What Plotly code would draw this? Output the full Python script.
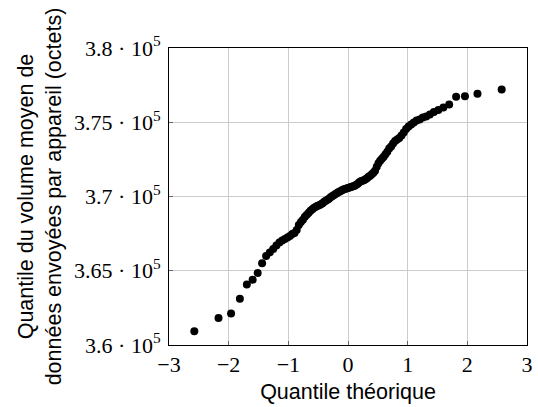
import plotly.graph_objects as go

# Theoretical normal quantiles (n = 100)
theoretical = [
    -2.5758, -2.1701, -1.9600, -1.8119, -1.6954, -1.5982, -1.5141, -1.4395, -1.3722, -1.3106,
    -1.2536, -1.2004, -1.1503, -1.1031, -1.0581, -1.0152, -0.9741, -0.9346, -0.8965, -0.8596,
    -0.8239, -0.7892, -0.7554, -0.7225, -0.6903, -0.6588, -0.6280, -0.5978, -0.5681, -0.5388,
    -0.5101, -0.4817, -0.4538, -0.4261, -0.3989, -0.3719, -0.3451, -0.3186, -0.2924, -0.2663,
    -0.2404, -0.2147, -0.1891, -0.1637, -0.1383, -0.1130, -0.0878, -0.0627, -0.0376, -0.0125,
    0.0125, 0.0376, 0.0627, 0.0878, 0.1130, 0.1383, 0.1637, 0.1891, 0.2147, 0.2404,
    0.2663, 0.2924, 0.3186, 0.3451, 0.3719, 0.3989, 0.4261, 0.4538, 0.4817, 0.5101,
    0.5388, 0.5681, 0.5978, 0.6280, 0.6588, 0.6903, 0.7225, 0.7554, 0.7892, 0.8239,
    0.8596, 0.8965, 0.9346, 0.9741, 1.0152, 1.0581, 1.1031, 1.1503, 1.2004, 1.2536,
    1.3106, 1.3722, 1.4395, 1.5141, 1.5982, 1.6954, 1.8119, 1.9600, 2.1701, 2.5758,
]

# Sample quantiles (octets)
sample = [
    360926, 361824, 362122, 363108, 364081, 364392, 364845, 365500, 365993, 366230,
    366466, 366703, 366906, 367041, 367142, 367243, 367345, 367480, 367548, 367750,
    368088, 368291, 368426, 368629, 368764, 368899, 369034, 369136, 369237, 369304,
    369372, 369406, 369473, 369541, 369642, 369710, 369777, 369845, 369946, 370014,
    370082, 370149, 370217, 370284, 370338, 370386, 370453, 370487, 370521, 370555,
    370588, 370622, 370656, 370689, 370723, 370791, 370859, 370960, 371027, 371061,
    371095, 371162, 371230, 371331, 371399, 371500, 371602, 371737, 372007, 372244,
    372413, 372548, 372683, 372852, 373021, 373224, 373359, 373561, 373730, 373832,
    373933, 374102, 374305, 374541, 374710, 374845, 374980, 375115, 375183, 375318,
    375386, 375521, 375690, 375825, 375994, 376197, 376717, 376757, 376919, 377210,
]

x_ticks = [-3, -2, -1, 0, 1, 2, 3]
x_tick_labels = ["\u22123", "\u22122", "\u22121", "0", "1", "2", "3"]
y_ticks = [360000, 365000, 370000, 375000, 380000]
y_tick_labels = ["3.6 \u00b7 10<sup>5</sup>", "3.65 \u00b7 10<sup>5</sup>", "3.7 \u00b7 10<sup>5</sup>",
                 "3.75 \u00b7 10<sup>5</sup>", "3.8 \u00b7 10<sup>5</sup>"]

fig = go.Figure()
fig.add_trace(go.Scatter(
    x=theoretical, y=sample, mode="markers",
    marker=dict(color="black", size=8, line=dict(width=0)),
    showlegend=False,
))

tick_font = dict(family="Liberation Serif, DejaVu Serif, serif", size=22, color="black")
title_font = dict(family="Liberation Sans, Arial, sans-serif", size=21.5, color="black")

fig.update_layout(
    width=538, height=407,
    margin=dict(l=169, r=11, t=48, b=62),
    plot_bgcolor="white", paper_bgcolor="white",
    xaxis=dict(
        range=[-3, 3], tickvals=x_ticks, ticktext=x_tick_labels,
        showgrid=True, gridcolor="#cccccc", gridwidth=1,
        showline=True, linecolor="black", linewidth=1, mirror=True,
        ticks="inside", ticklen=4, tickcolor="#666666",
        tickfont=tick_font, zeroline=False, ticklabelstandoff=0,
        automargin=False,
        title=dict(text="Quantile théorique", font=title_font, standoff=7),
    ),
    yaxis=dict(
        range=[360000, 380000], tickvals=y_ticks, ticktext=y_tick_labels,
        showgrid=True, gridcolor="#cccccc", gridwidth=1,
        showline=True, linecolor="black", linewidth=1, mirror=True,
        ticks="inside", ticklen=4, tickcolor="#666666",
        tickfont=tick_font, zeroline=False, ticklabelstandoff=3,
        automargin=False,
        title=dict(text="Quantile du volume moyen de<br>données envoyées par appareil (octets)",
                   font=title_font, standoff=6),
    ),
)

fig.write_html("out.html", config={"displayModeBar": False})

# remove the default page margin so the figure sits at the window origin
with open("out.html", encoding="utf-8") as f:
    html = f.read()
html = html.replace("<body>", '<body style="margin:0;padding:0">', 1)
with open("out.html", "w", encoding="utf-8") as f:
    f.write(html)
